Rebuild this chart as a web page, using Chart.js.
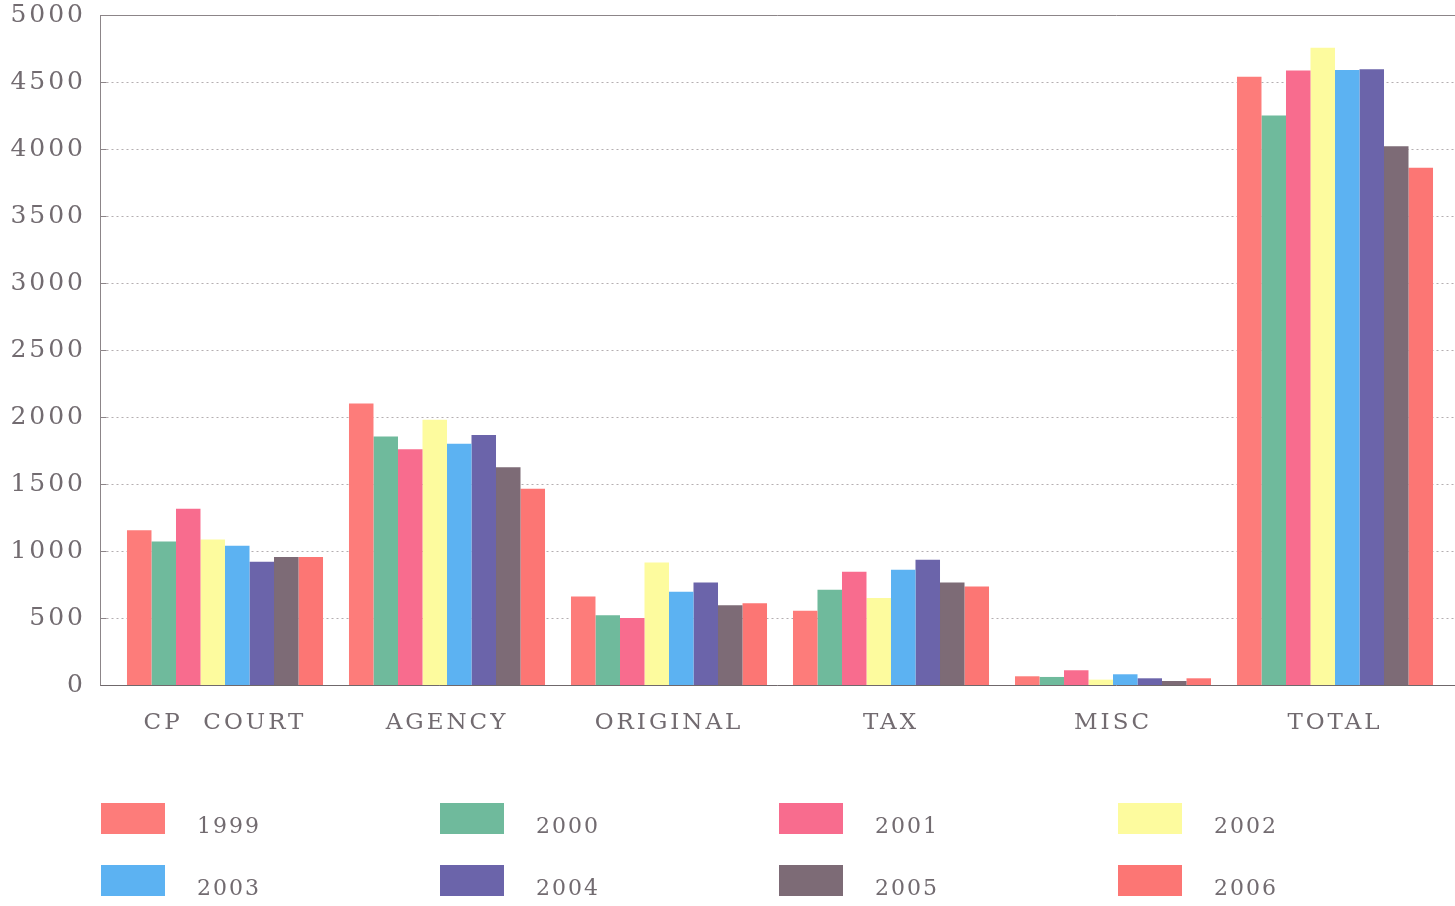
<!DOCTYPE html>
<html>
<head>
<meta charset="utf-8">
<title>Cases by year</title>
<script src="https://cdn.jsdelivr.net/npm/chart.js@4"></script>
<style>
    html, body { margin: 0; padding: 0; background: #fff; }
    #wrap { width: 1455px; height: 906px; }
</style>
</head>
<body>
<div id="wrap"><canvas id="cases-chart" width="1455" height="906"></canvas></div>
<script>
// Categories and values per year
const categories = ['CP  COURT', 'AGENCY', 'ORIGINAL', 'TAX', 'MISC', 'TOTAL'];
const years = ['1999', '2000', '2001', '2002', '2003', '2004', '2005', '2006'];

const y1999 = [1155, 2100, 660, 555, 65, 4540];
const y2000 = [1070, 1855, 520, 710, 60, 4250];
const y2001 = [1315, 1760, 500, 845, 110, 4585];
const y2002 = [1085, 1980, 915, 650, 40, 4755];
const y2003 = [1040, 1800, 695, 860, 80, 4590];
const y2004 = [920, 1865, 765, 935, 50, 4595];
const y2005 = [955, 1625, 595, 765, 30, 4020];
const y2006 = [955, 1465, 610, 735, 50, 3860];

const yTicks = [0, 500, 1000, 1500, 2000, 2500, 3000, 3500, 4000, 4500, 5000];

const colors = ['#fd7c7a', '#6fba9c', '#f86c8e', '#fdfb9e', '#5cb2f2', '#6b64aa', '#7d6b76', '#fc7674'];
const textColor = '#726b70';
const fontFamily = '"DejaVu Serif", "Liberation Serif", serif';

const seriesValues = [y1999, y2000, y2001, y2002, y2003, y2004, y2005, y2006];

// Axis frame, dotted grid lines and the small tick marks
const framePlugin = {
    id: 'frame',
    beforeDraw: (chart) => {
        chart.ctx.letterSpacing = '3px';
    },
    beforeDatasetsDraw: (chart) => {
        const { ctx, scales } = chart;
        const yScale = scales.y;
        const axisX = 100.5;
        const rightX = chart.width;
        const top = yScale.getPixelForValue(5000);
        const bottom = yScale.getPixelForValue(0);
        ctx.save();
        ctx.lineWidth = 1;
        ctx.strokeStyle = '#b4aeb1';
        ctx.setLineDash([2, 3]);
        yTicks.forEach((v) => {
            if (v === 0 || v === 5000) return;
            const y = Math.round(yScale.getPixelForValue(v)) + 0.5;
            ctx.beginPath();
            ctx.moveTo(axisX + 6, y);
            ctx.lineTo(rightX, y);
            ctx.stroke();
        });
        ctx.setLineDash([]);
        ctx.strokeStyle = '#8c8588';
        yTicks.forEach((v) => {
            const y = Math.round(yScale.getPixelForValue(v)) + 0.5;
            ctx.beginPath();
            ctx.moveTo(axisX, y);
            ctx.lineTo(axisX + 6, y);
            ctx.stroke();
        });
        ctx.beginPath();
        ctx.moveTo(axisX, Math.round(top) + 0.5);
        ctx.lineTo(rightX, Math.round(top) + 0.5);
        ctx.moveTo(axisX, Math.round(top));
        ctx.lineTo(axisX, Math.round(bottom) + 1);
        ctx.stroke();
        ctx.strokeStyle = '#6f686b';
        ctx.beginPath();
        ctx.moveTo(axisX, Math.round(bottom) + 0.5);
        ctx.lineTo(rightX, Math.round(bottom) + 0.5);
        ctx.stroke();
        ctx.restore();
    },
};

// Legend in a 4 x 2 grid below the plot
const gridLegendPlugin = {
    id: 'gridLegend',
    afterDraw: (chart) => {
        const { ctx } = chart;
        ctx.save();
        ctx.letterSpacing = '2px';
        ctx.font = '22px ' + fontFamily;
        ctx.textBaseline = 'middle';
        ctx.textAlign = 'left';
        chart.data.datasets.forEach((ds, i) => {
            const col = i % 4;
            const row = Math.floor(i / 4);
            const x = 101 + col * 339;
            const y = 803 + row * 62;
            ctx.fillStyle = ds.backgroundColor;
            ctx.fillRect(x, y, 64, 31);
            ctx.fillStyle = textColor;
            ctx.fillText(ds.label, x + 96, y + 24);
        });
        ctx.restore();
    },
};

const ctx = document.getElementById('cases-chart').getContext('2d');

const casesChart = new Chart(ctx, {
    type: 'bar',
    data: {
        labels: categories,
        datasets: years.map((year, i) => ({
            label: year,
            data: seriesValues[i],
            backgroundColor: colors[i],
            borderWidth: 0,
            barPercentage: 1,
            categoryPercentage: 0.883,
        })),
    },
    options: {
        responsive: false,
        animation: false,
        layout: { padding: { top: 15, right: 9, left: 0, bottom: 0 } },
        plugins: {
            legend: { display: false },
            tooltip: { enabled: false },
        },
        scales: {
            x: {
                grid: { display: false, drawTicks: false },
                border: { display: false },
                ticks: {
                    color: textColor,
                    padding: 24,
                    maxRotation: 0,
                    font: { family: fontFamily, size: 23 },
                },
                afterFit: (scale) => { scale.height = 221; },
            },
            y: {
                min: 0,
                max: 5000,
                grid: { display: false, drawTicks: false },
                border: { display: false },
                ticks: {
                    stepSize: 500,
                    color: textColor,
                    padding: 28,
                    font: { family: fontFamily, size: 25 },
                    callback: (value) => String(value),
                },
                afterFit: (scale) => {
                    scale.width = 114;
                    scale.paddingTop = 0;
                    scale.paddingBottom = 0;
                },
            },
        },
    },
    plugins: [framePlugin, gridLegendPlugin],
});
</script>
</body>
</html>
